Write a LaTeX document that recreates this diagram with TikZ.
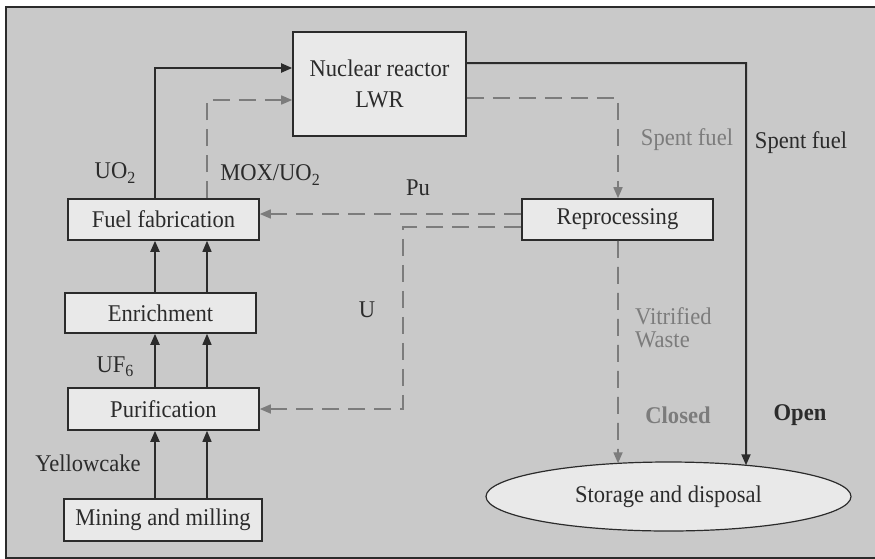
\documentclass[tikz,border=0pt]{standalone}
\usepackage{fontspec}
\setmainfont[FakeStretch=0.94]{Liberation Serif}
\usetikzlibrary{arrows.meta,shapes.geometric,intersections}
\definecolor{panel}{HTML}{C9C9C9}
\definecolor{boxfill}{HTML}{E9E9E9}
\definecolor{ink}{HTML}{2B2B2B}
\definecolor{faint}{HTML}{7C7C7C}
% chemical-formula subscript, set a little larger and lower than \textsubscript
\newcommand{\chemsub}[1]{\raisebox{-0.38ex}{\fontsize{17}{17}\selectfont #1}}
\begin{document}
\begin{tikzpicture}[x=1pt,y=-1pt,
  font=\fontsize{24}{27}\selectfont,
  stage/.style={draw=ink,line width=1.6pt,fill=boxfill,text=ink,inner sep=0pt},
  solidflow/.style={draw=ink,line width=2pt,-{Triangle[length=11pt,width=9pt]}},
  thinflow/.style={draw=ink,line width=1.3pt,-{Triangle[length=11pt,width=9pt]}},
  dashflow/.style={draw=faint,line width=1.6pt,dash pattern=on 17pt off 9pt,-{Triangle[length=11pt,width=9pt]}},
  darklabel/.style={text=ink,inner sep=0pt},
  greylabel/.style={text=faint,inner sep=0pt}]
\useasboundingbox (0,0) rectangle (875,558);
\fill[white] (0,0) rectangle (875,558);
\draw[ink,line width=2.4pt,fill=panel] (6,7) rectangle (878,558);

% process stages
\node[stage,minimum width=173pt,minimum height=104pt,align=center] (reactor) at (379.5,84)
  {Nuclear reactor\\[4pt]LWR};
\node[stage,minimum width=191pt,minimum height=41pt] (fuelfab) at (163.5,219.5) {Fuel fabrication};
\node[stage,minimum width=191pt,minimum height=41pt] (reproc) at (617.5,219.5) {Reprocessing};
\node[stage,minimum width=191pt,minimum height=40pt] (enrich) at (160.5,313) {Enrichment};
\node[stage,minimum width=191pt,minimum height=42pt] (purif) at (163.5,409) {Purification};
\node[stage,minimum width=198pt,minimum height=42pt] (mining) at (163,520) {Mining and milling};
\node[stage,ellipse,line width=1.2pt,minimum width=365pt,minimum height=69pt] (stor) at (668.5,496.5)
  {Storage and disposal};
\path[name path=storrim] (stor.center) ellipse [x radius=182.5pt,y radius=34.5pt];

% columns of the routes
\coordinate (colA) at (155,0);
\coordinate (colB) at (207,0);
\coordinate (colU) at (403,0);
\coordinate (colC) at (618,0);
\coordinate (colO) at (746,0);

% front end of the cycle
\draw[solidflow] (mining.north -| colA) -- (purif.south -| colA);
\draw[thinflow] (mining.north -| colB) -- (purif.south -| colB);
\draw[solidflow] (purif.north -| colA) -- (enrich.south -| colA);
\draw[thinflow] (purif.north -| colB) -- (enrich.south -| colB);
\draw[solidflow] (enrich.north -| colA) -- (fuelfab.south -| colA);
\draw[thinflow] (enrich.north -| colB) -- (fuelfab.south -| colB);

% fuel to the reactor
\draw[solidflow] (fuelfab.north -| colA) |- ([yshift=16pt]reactor.west);
\draw[dashflow] (fuelfab.north -| colB) |- ([yshift=-16pt]reactor.west);

% open cycle
\path[name path=openline] ([yshift=21pt]reactor.east -| colO) -- ++(0,480);
\path[name intersections={of=openline and storrim,by=openend}];
\draw[solidflow] ([yshift=21pt]reactor.east) -- ([yshift=21pt]reactor.east -| colO) -- (openend);

% closed cycle
\draw[dashflow] ([yshift=-14pt]reactor.east) -| (reproc.north -| colC);
\path[name path=closedline] (reproc.south -| colC) -- ++(0,300);
\path[name intersections={of=closedline and storrim,by=closedend}];
\draw[dashflow] (reproc.south -| colC) -- (closedend);
\draw[dashflow] ([yshift=5.5pt]reproc.west) -- ([yshift=5.5pt]fuelfab.east);
\draw[dashflow] ([yshift=-7.5pt]reproc.west) -- ([yshift=-7.5pt]reproc.west -| colU)
  |- (purif.east);

% labels
\node[darklabel] (lUO) at (115,173) {UO\chemsub{2}};
\node[darklabel] (lMOX) at (270,175) {MOX/UO\chemsub{2}};
\node[darklabel] (lPu) at (418,188) {Pu};
\node[darklabel] (lU) at (367,310) {U};
\node[darklabel] (lUF) at (115,367) {UF\chemsub{6}};
\node[darklabel] (lYel) at (88,463) {Yellowcake};
\node[greylabel] (lSpentA) at (687,140) {Spent fuel};
\node[darklabel] (lSpentB) at (801,143) {Spent fuel};
\node[greylabel,anchor=west,align=left,font=\fontsize{24}{23}\selectfont] (lVit) at (635,328) {Vitrified\\Waste};
\node[greylabel,font=\fontsize{24}{27}\selectfont\bfseries] (lClosed) at (678,415) {Closed};
\node[darklabel,font=\fontsize{24}{27}\selectfont\bfseries] (lOpen) at (800,415) {Open};
\end{tikzpicture}
\end{document}
